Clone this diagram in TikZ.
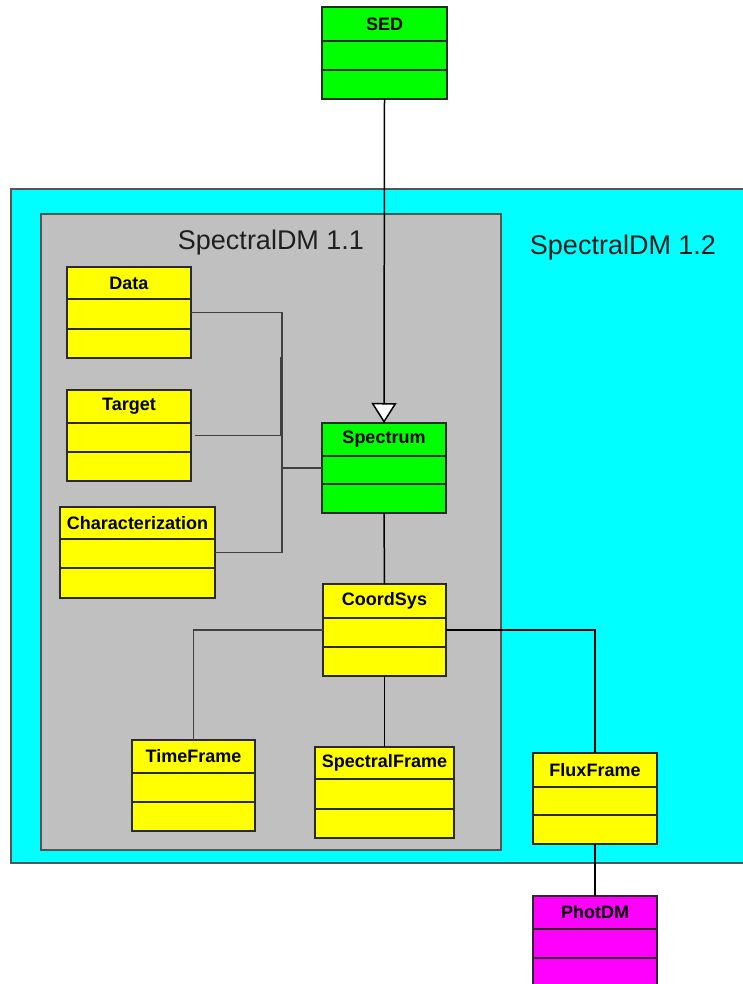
\documentclass[tikz,border=0pt]{standalone}
\usepackage{fontspec}
\setmainfont{Liberation Sans}
\usetikzlibrary{arrows.meta}
\definecolor{cyanbg}{HTML}{00FFFF}
\definecolor{graybg}{HTML}{C0C0C0}
\definecolor{umlgreen}{HTML}{00FF00}
\definecolor{umlyellow}{HTML}{FFFF00}
\definecolor{umlmagenta}{HTML}{FF00FF}
\definecolor{edgegray}{HTML}{2A2A2A}
\definecolor{pkgedge}{HTML}{555555}
\newcommand\umlclass[9]{%
  \node[classbox, fill=#8, minimum width={(#4-#2)*1pt}, minimum height={(#5-#3)*1pt}, anchor=north west] (#1) at (#2,#3) {};
  \draw[divline] (#2,#6) -- (#4,#6);
  \draw[divline] (#2,#7) -- (#4,#7);
  \node[classtitle] (#1t) at ({(#2+#4)/2},{(#3+#6)/2}) {#9};
}
\begin{document}
\begin{tikzpicture}[x=1pt,y=-1pt,
  classbox/.style={draw=edgegray, line width=1.6pt, rectangle, inner sep=0pt, outer sep=0pt},
  divline/.style={draw=edgegray, line width=1.6pt},
  classtitle/.style={font=\bfseries\fontsize{18}{20}\selectfont, inner sep=0pt, text=black},
  pkgbox/.style={draw=pkgedge, line width=1.6pt, rectangle, inner sep=0pt, outer sep=0pt},
  pkglabel/.style={font=\fontsize{27}{30}\selectfont, text=black!88, inner sep=0pt},
  conn/.style={draw=black, line width=1.5pt},
  innerconn/.style={draw=black!75, line width=1.7pt}]
\clip (0,0) rectangle (743,984);
\fill[white] (0,0) rectangle (743,984);
% packages
\node[pkgbox, fill=cyanbg, minimum width=770pt, minimum height=674pt, anchor=north west] (pkg12) at (11,189) {};
\node[pkgbox, fill=graybg, minimum width=460pt, minimum height=636pt, anchor=north west] (pkg11) at (41,214) {};
\node[pkglabel] (lab11) at (271,243) {SpectralDM 1.1};
\node[pkglabel] (lab12) at (623,248) {SpectralDM 1.2};
% classes
\umlclass{sed}{322}{7}{447}{99}{41}{70}{umlgreen}{SED}
\umlclass{data}{67}{267}{191}{358}{299}{329}{umlyellow}{Data}
\umlclass{target}{67}{390}{191}{481}{423}{452}{umlyellow}{Target}
\umlclass{char}{60}{507}{215}{598}{539}{568}{umlyellow}{Characterization}
\umlclass{spectrum}{322}{423}{446}{513}{456}{484}{umlgreen}{Spectrum}
\umlclass{coordsys}{323}{584}{446}{676}{618}{647}{umlyellow}{CoordSys}
\umlclass{timeframe}{132}{740}{255}{831}{773}{802}{umlyellow}{TimeFrame}
\umlclass{spectralframe}{315}{747}{454}{838}{779}{809}{umlyellow}{SpectralFrame}
\umlclass{fluxframe}{533}{753}{657}{844}{787}{815}{umlyellow}{FluxFrame}
\umlclass{photdm}{533}{896}{657}{994}{929}{958}{umlmagenta}{PhotDM}
% connectors
\coordinate (jx) at (282,468);
\coordinate (tstart) at (195,435.5);
\coordinate (tj) at (280.5,357);
\draw[innerconn] (data.east) -| (jx) -- (spectrum.west);
\draw[innerconn] (tstart) -| (tj);
\draw[innerconn] (char.east) -| (jx);
\draw[conn, -{Triangle[width=25pt,length=20pt,fill=white]}] (sed.south) -- (spectrum.north);
\draw[conn] (spectrum.south) -- (coordsys.north);
\draw[innerconn] (coordsys.west) -| (timeframe.north);
\draw[conn] (coordsys.east) -| (fluxframe.north);
\draw[conn] (coordsys.south) -- (spectralframe.north);
\draw[conn] (fluxframe.south) -- (photdm.north);
\end{tikzpicture}
\end{document}
